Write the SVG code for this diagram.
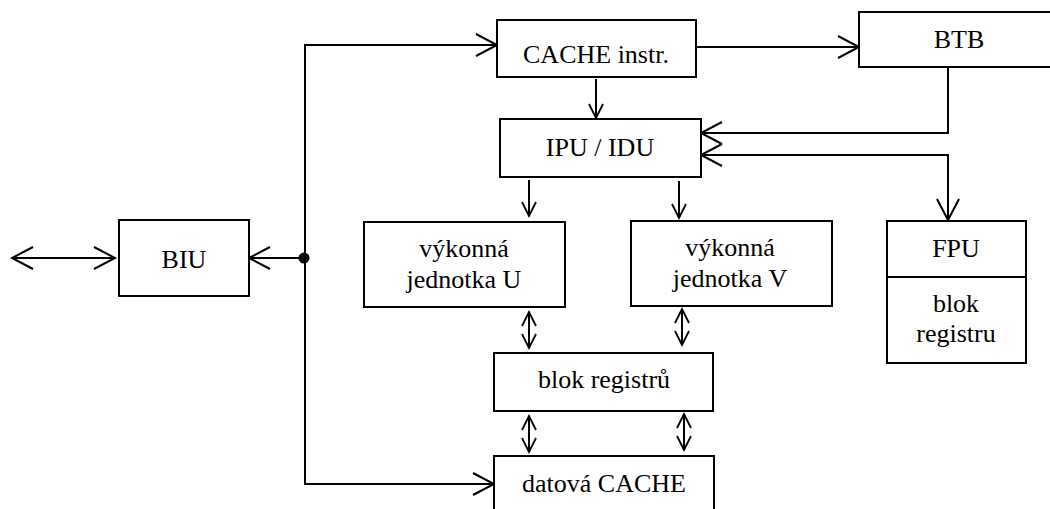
<svg xmlns="http://www.w3.org/2000/svg" width="1050" height="509" viewBox="0 0 1050 509">
  <style>
    .box { fill: #fff; stroke: #000; stroke-width: 2; }
    .wire { fill: none; stroke: #000; stroke-width: 2; }
    .big { marker-end: url(#headBig); }
    .bigBoth { marker-start: url(#headBig); marker-end: url(#headBig); }
    .small { marker-end: url(#headSmall); }
    .smallBoth { marker-start: url(#headSmall); marker-end: url(#headSmall); }
    .lbl { font-family: "Liberation Serif", "Times New Roman", serif; font-size: 26px; fill: #000; text-anchor: middle; }
  </style>
  <defs>
    <!-- open V arrowheads -->
    <marker id="headBig" markerUnits="userSpaceOnUse" viewBox="-2 -2 26 26" markerWidth="26" markerHeight="26" refX="21" refY="11" orient="auto-start-reverse">
      <path d="M0,0 L21,11 L0,22" fill="none" stroke="#000" stroke-width="2"/>
    </marker>
    <marker id="headSmall" markerUnits="userSpaceOnUse" viewBox="-2 -2 18 18" markerWidth="18" markerHeight="18" refX="14" refY="7" orient="auto-start-reverse">
      <path d="M0,0 L14,7 L0,14" fill="none" stroke="#000" stroke-width="1.8"/>
    </marker>
  </defs>

  <g id="connectors">
    <!-- external bus -->
    <line class="wire bigBoth" x1="12" y1="258" x2="115" y2="258"/>
    <!-- internal bus from the junction -->
    <line class="wire big" x1="303" y1="258" x2="249" y2="258"/>
    <polyline class="wire big" points="305,258 305,45 497,45"/>
    <polyline class="wire big" points="305,258 305,484 494,484"/>
    <circle cx="304" cy="258" r="5.5" fill="#000"/>
    <!-- instruction path -->
    <line class="wire big" x1="696" y1="47" x2="859" y2="47"/>
    <line class="wire small" x1="596" y1="79" x2="596" y2="118"/>
    <polyline class="wire big" points="948,67 948,133 701,133"/>
    <polyline class="wire bigBoth" points="701,155 948,155 948,220"/>
    <line class="wire small" x1="529" y1="180" x2="529" y2="216"/>
    <line class="wire small" x1="679" y1="181" x2="679" y2="218"/>
    <!-- register / data exchange -->
    <line class="wire smallBoth" x1="529" y1="312" x2="529" y2="348"/>
    <line class="wire smallBoth" x1="682" y1="309" x2="682" y2="345"/>
    <line class="wire smallBoth" x1="529" y1="416" x2="529" y2="452"/>
    <line class="wire smallBoth" x1="684" y1="414" x2="684" y2="450"/>
  </g>

  <g id="biu">
    <rect class="box" x="119" y="220" width="130" height="76"/>
    <text class="lbl" x="184" y="268">BIU</text>
  </g>
  <g id="cache-instr">
    <rect class="box" x="497" y="20" width="199" height="57"/>
    <text class="lbl" x="596" y="63">CACHE instr.</text>
  </g>
  <g id="btb">
    <rect class="box" x="859" y="12" width="202" height="55"/>
    <text class="lbl" x="959" y="48">BTB</text>
  </g>
  <g id="ipu-idu">
    <rect class="box" x="500" y="119" width="201" height="58"/>
    <text class="lbl" x="600" y="156">IPU / IDU</text>
  </g>
  <g id="unit-u">
    <rect class="box" x="364" y="222" width="201" height="85"/>
    <text class="lbl" x="464" y="257">výkonná</text>
    <text class="lbl" x="464" y="288">jednotka U</text>
  </g>
  <g id="unit-v">
    <rect class="box" x="631" y="221" width="201" height="85"/>
    <text class="lbl" x="730" y="256">výkonná</text>
    <text class="lbl" x="730" y="287">jednotka V</text>
  </g>
  <g id="fpu">
    <rect class="box" x="887" y="221" width="139" height="142"/>
    <line class="wire" x1="887" y1="277" x2="1026" y2="277"/>
    <text class="lbl" x="956" y="257">FPU</text>
    <text class="lbl" x="956" y="312">blok</text>
    <text class="lbl" x="956" y="342">registru</text>
  </g>
  <g id="registers">
    <rect class="box" x="494" y="353" width="219" height="58"/>
    <text class="lbl" x="604" y="388">blok registrů</text>
  </g>
  <g id="data-cache">
    <rect class="box" x="494" y="456" width="220" height="62"/>
    <text class="lbl" x="604" y="492">datová CACHE</text>
  </g>
</svg>
